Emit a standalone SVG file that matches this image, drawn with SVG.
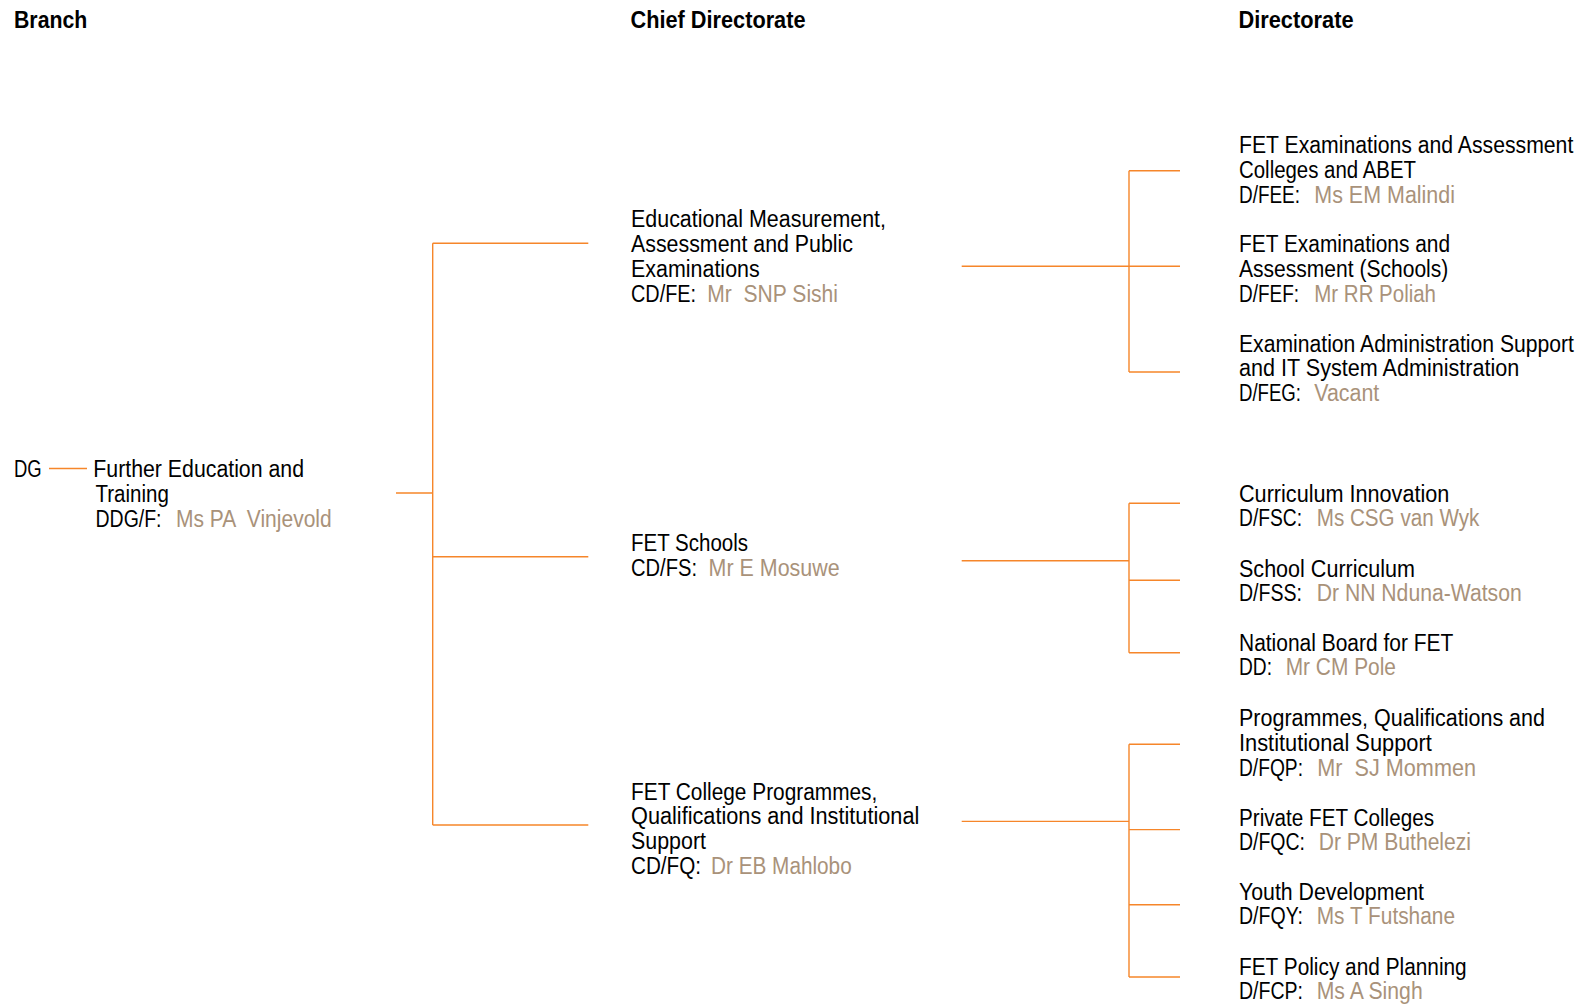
<svg xmlns="http://www.w3.org/2000/svg" width="1594" height="1005" viewBox="0 0 1594 1005">
<style>
text{font-family:"Liberation Sans",Arial,sans-serif;font-size:23px;fill:#000;white-space:pre}
.h{font-weight:bold;font-size:24.5px}
.n{fill:#A9927A}
.c{fill:none;stroke:#F6862A;stroke-width:1.4}
</style>
<rect width="1594" height="1005" fill="#fff"/>
<g id="headers">
<text class="h" x="14" y="28.3" textLength="73.3" lengthAdjust="spacingAndGlyphs">Branch</text>
<text class="h" x="630.5" y="28.3" textLength="175" lengthAdjust="spacingAndGlyphs">Chief Directorate</text>
<text class="h" x="1238.5" y="28.3" textLength="115" lengthAdjust="spacingAndGlyphs">Directorate</text>
</g>
<g id="connectors">
<path class="c" d="M49 468.5H87"/>
<path class="c" d="M396 493H432.7M432.7 243.3V825M432.7 243.3H588.3M432.7 556.7H588.3M432.7 825H588.3"/>
<path class="c" d="M961.7 266.3H1129M1129 170.7V372M1129 170.7H1180M1129 266.3H1180M1129 372H1180"/>
<path class="c" d="M961.7 560.7H1129M1129 503.3V652.7M1129 503.3H1180M1129 580.3H1180M1129 652.7H1180"/>
<path class="c" d="M961.7 821.4H1129M1129 744.2V977M1129 744.2H1180M1129 829.6H1180M1129 904.8H1180M1129 977H1180"/>
</g>
<g id="dg">
<text x="14" y="476.7" textLength="27.7" lengthAdjust="spacingAndGlyphs">DG</text>
</g>
<g id="branch-fet">
<text x="93.3" y="476.7" textLength="210.7" lengthAdjust="spacingAndGlyphs">Further Education and</text>
<text x="95.5" y="501.7" textLength="73.3" lengthAdjust="spacingAndGlyphs">Training</text>
<text x="95.5" y="527" textLength="66" lengthAdjust="spacingAndGlyphs">DDG/F:</text>
<text class="n" x="176" y="527" textLength="155.7" lengthAdjust="spacingAndGlyphs">Ms PA  Vinjevold</text>
</g>
<g id="cd-fe">
<text x="631" y="226.7" textLength="255" lengthAdjust="spacingAndGlyphs">Educational Measurement,</text>
<text x="631" y="251.7" textLength="222" lengthAdjust="spacingAndGlyphs">Assessment and Public</text>
<text x="631" y="276.7" textLength="128.7" lengthAdjust="spacingAndGlyphs">Examinations</text>
<text x="631" y="301.7" textLength="65" lengthAdjust="spacingAndGlyphs">CD/FE:</text>
<text class="n" x="707.3" y="301.7" textLength="130.7" lengthAdjust="spacingAndGlyphs">Mr  SNP Sishi</text>
</g>
<g id="cd-fs">
<text x="631" y="551" textLength="117" lengthAdjust="spacingAndGlyphs">FET Schools</text>
<text x="631" y="576" textLength="66" lengthAdjust="spacingAndGlyphs">CD/FS:</text>
<text class="n" x="708.6" y="576" textLength="131" lengthAdjust="spacingAndGlyphs">Mr E Mosuwe</text>
</g>
<g id="cd-fq">
<text x="631" y="799.5" textLength="246.3" lengthAdjust="spacingAndGlyphs">FET College Programmes,</text>
<text x="631" y="824.3" textLength="288.3" lengthAdjust="spacingAndGlyphs">Qualifications and Institutional</text>
<text x="631" y="849" textLength="75" lengthAdjust="spacingAndGlyphs">Support</text>
<text x="631" y="873.5" textLength="70" lengthAdjust="spacingAndGlyphs">CD/FQ:</text>
<text class="n" x="711" y="873.5" textLength="140.7" lengthAdjust="spacingAndGlyphs">Dr EB Mahlobo</text>
</g>
<g id="d-fee">
<text x="1239" y="153.3" textLength="334.3" lengthAdjust="spacingAndGlyphs">FET Examinations and Assessment</text>
<text x="1239" y="178.3" textLength="177" lengthAdjust="spacingAndGlyphs">Colleges and ABET</text>
<text x="1239" y="202.9" textLength="61" lengthAdjust="spacingAndGlyphs">D/FEE:</text>
<text class="n" x="1314.3" y="202.9" textLength="140.7" lengthAdjust="spacingAndGlyphs">Ms EM Malindi</text>
</g>
<g id="d-fef">
<text x="1239" y="252.3" textLength="211" lengthAdjust="spacingAndGlyphs">FET Examinations and</text>
<text x="1239" y="277" textLength="209.3" lengthAdjust="spacingAndGlyphs">Assessment (Schools)</text>
<text x="1239" y="301.5" textLength="60" lengthAdjust="spacingAndGlyphs">D/FEF:</text>
<text class="n" x="1314.3" y="301.5" textLength="121.7" lengthAdjust="spacingAndGlyphs">Mr RR Poliah</text>
</g>
<g id="d-feg">
<text x="1239" y="351.7" textLength="335" lengthAdjust="spacingAndGlyphs">Examination Administration Support</text>
<text x="1239" y="376.2" textLength="280.3" lengthAdjust="spacingAndGlyphs">and IT System Administration</text>
<text x="1239" y="400.7" textLength="62" lengthAdjust="spacingAndGlyphs">D/FEG:</text>
<text class="n" x="1314.3" y="400.7" textLength="65" lengthAdjust="spacingAndGlyphs">Vacant</text>
</g>
<g id="d-fsc">
<text x="1239" y="501.7" textLength="210.3" lengthAdjust="spacingAndGlyphs">Curriculum Innovation</text>
<text x="1239" y="526" textLength="63" lengthAdjust="spacingAndGlyphs">D/FSC:</text>
<text class="n" x="1316.7" y="526" textLength="162.7" lengthAdjust="spacingAndGlyphs">Ms CSG van Wyk</text>
</g>
<g id="d-fss">
<text x="1239" y="576.7" textLength="176" lengthAdjust="spacingAndGlyphs">School Curriculum</text>
<text x="1239" y="600.5" textLength="63" lengthAdjust="spacingAndGlyphs">D/FSS:</text>
<text class="n" x="1316.7" y="600.5" textLength="205" lengthAdjust="spacingAndGlyphs">Dr NN Nduna-Watson</text>
</g>
<g id="d-dd">
<text x="1239" y="651" textLength="214.3" lengthAdjust="spacingAndGlyphs">National Board for FET</text>
<text x="1239" y="675.3" textLength="33" lengthAdjust="spacingAndGlyphs">DD:</text>
<text class="n" x="1285.7" y="675.3" textLength="110.3" lengthAdjust="spacingAndGlyphs">Mr CM Pole</text>
</g>
<g id="d-fqp">
<text x="1239" y="725.7" textLength="306" lengthAdjust="spacingAndGlyphs">Programmes, Qualifications and</text>
<text x="1239" y="750.7" textLength="192.7" lengthAdjust="spacingAndGlyphs">Institutional Support</text>
<text x="1239" y="775.7" textLength="64" lengthAdjust="spacingAndGlyphs">D/FQP:</text>
<text class="n" x="1317.3" y="775.7" textLength="158.7" lengthAdjust="spacingAndGlyphs">Mr  SJ Mommen</text>
</g>
<g id="d-fqc">
<text x="1239" y="825.7" textLength="195" lengthAdjust="spacingAndGlyphs">Private FET Colleges</text>
<text x="1239" y="850" textLength="66" lengthAdjust="spacingAndGlyphs">D/FQC:</text>
<text class="n" x="1318.7" y="850" textLength="152.3" lengthAdjust="spacingAndGlyphs">Dr PM Buthelezi</text>
</g>
<g id="d-fqy">
<text x="1239" y="900" textLength="185" lengthAdjust="spacingAndGlyphs">Youth Development</text>
<text x="1239" y="924.3" textLength="64" lengthAdjust="spacingAndGlyphs">D/FQY:</text>
<text class="n" x="1316.7" y="924.3" textLength="138.3" lengthAdjust="spacingAndGlyphs">Ms T Futshane</text>
</g>
<g id="d-fcp">
<text x="1239" y="975" textLength="227.7" lengthAdjust="spacingAndGlyphs">FET Policy and Planning</text>
<text x="1239" y="999.3" textLength="64" lengthAdjust="spacingAndGlyphs">D/FCP:</text>
<text class="n" x="1316.7" y="999.3" textLength="106" lengthAdjust="spacingAndGlyphs">Ms A Singh</text>
</g>
</svg>
